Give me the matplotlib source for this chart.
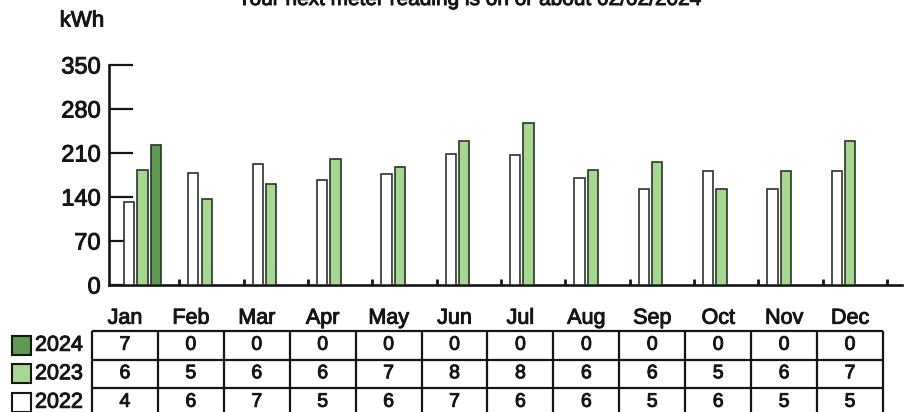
import matplotlib
matplotlib.use("Agg")
import matplotlib.pyplot as plt
from matplotlib.patches import Rectangle
import matplotlib.patheffects as pe
import numpy as np

plt.rcParams['font.family'] = ['Liberation Sans', 'DejaVu Sans']

months = ['Jan', 'Feb', 'Mar', 'Apr', 'May', 'Jun', 'Jul', 'Aug', 'Sep', 'Oct', 'Nov', 'Dec']
years = ['2024', '2023', '2022']
kwh_2022 = [132, 178, 192, 167, 176, 208, 207, 171, 152, 182, 152, 181]
kwh_2023 = [183, 137, 160, 201, 188, 229, 258, 183, 196, 152, 181, 229]
kwh_2024 = [223, None, None, None, None, None, None, None, None, None, None, None]
days_2024 = [7, 0, 0, 0, 0, 0, 0, 0, 0, 0, 0, 0]
days_2023 = [6, 5, 6, 6, 7, 8, 8, 6, 6, 5, 6, 7]
days_2022 = [4, 6, 7, 5, 6, 7, 6, 6, 5, 6, 5, 5]
yticks = [0, 70, 140, 210, 280, 350]
title = "Your next meter reading is on or about 02/02/2024"

C2024 = '#5f9a53'
C2023 = '#a6d88f'
C2022 = '#ffffff'
EDGE = '#2b332b'
INK = '#151515'
BOLD = [pe.withStroke(linewidth=0.7, foreground=INK)]

W, H = 909, 412
fig = plt.figure(figsize=(W / 100, H / 100), dpi=100)
fig.patch.set_facecolor('white')

# main chart axes (pixel geometry)
ax_l, ax_r, ax_t, ax_b = 109, 902, 65, 285
ax = fig.add_axes([ax_l / W, 1 - ax_b / H, (ax_r - ax_l) / W, (ax_b - ax_t) / H])
slot0 = 114.8
slot_w = 64.35
ax.set_xlim(-(slot0 - ax_l) / slot_w, (ax_r - slot0) / slot_w)
ax.set_ylim(0, 350)

idx = np.arange(len(months))
bw = 0.16
ax.bar(idx + 0.22, kwh_2022, width=bw, color=C2022, edgecolor=EDGE, linewidth=1.2, zorder=3)
ax.bar(idx + 0.43, kwh_2023, width=bw, color=C2023, edgecolor=EDGE, linewidth=1.2, zorder=3)
v24 = [(i, v) for i, v in enumerate(kwh_2024) if v]
ax.bar([i + 0.64 for i, _ in v24], [v for _, v in v24], width=bw, color=C2024,
       edgecolor=EDGE, linewidth=1.2, zorder=3)

for s in ['top', 'right']:
    ax.spines[s].set_visible(False)
for s in ['left', 'bottom']:
    ax.spines[s].set_color(INK)
    ax.spines[s].set_linewidth(1.9)

ax.set_yticks(yticks)
ax.set_yticklabels([str(v) for v in yticks], fontsize=17, color=INK)
for lbl in ax.get_yticklabels():
    lbl.set_path_effects(BOLD)
ax.tick_params(axis='y', direction='in', length=17.5, width=1.6, color=INK, pad=6)
ax.set_xticks(np.arange(1, len(months) + 1))
ax.set_xticklabels([])
ax.tick_params(axis='x', direction='in', length=4, width=2, color=INK)

fig.text(82 / W, 1 - 21 / H, 'kWh', fontsize=16, ha='center', va='center', color=INK,
         path_effects=BOLD)
fig.text(470 / W, 1 - 5 / H, title, fontsize=15, ha='center', va='baseline', color=INK,
         path_effects=BOLD)

# data table below
tb_l, tb_r, tb_t = 92, 883, 331
row_h = 28.5
tax = fig.add_axes([tb_l / W, 0, (tb_r - tb_l) / W, (H - tb_t) / H])
tax.set_xlim(0, len(months))
tax.set_ylim(3 - (H - tb_t) / row_h, 3)
tax.axis('off')
for k in range(len(months) + 1):
    tax.plot([k, k], [-1, 3], color=INK, lw=1.6, clip_on=False, solid_capstyle='butt')
for r in [3, 2, 1, 0]:
    tax.plot([0, len(months)], [r, r], color=INK, lw=1.6, clip_on=False, solid_capstyle='butt')
rows = [days_2024, days_2023, days_2022]
for ri, vals in enumerate(rows):
    yc = 2.5 - ri
    for ci, v in enumerate(vals):
        tax.text(ci + 0.5, yc, str(v), ha='center', va='center', fontsize=14, color=INK,
                 path_effects=BOLD)
for ci, m in enumerate(months):
    tax.text(ci + 0.5, 3.45, m, ha='center', va='center', fontsize=15.5, color=INK,
             clip_on=False, path_effects=BOLD)

# legend swatches
sw_colors = [C2024, C2023, C2022]
for ri, (yr, col) in enumerate(zip(years, sw_colors)):
    yc = tb_t + row_h * (ri + 0.5)
    fig.patches.append(Rectangle((12 / W, 1 - (yc + 9.5) / H), 19 / W, 19 / H,
                                 transform=fig.transFigure, facecolor=col,
                                 edgecolor=INK, linewidth=1.5))
    fig.text(35 / W, 1 - yc / H, yr, fontsize=15.5, ha='left', va='center', color=INK,
             path_effects=BOLD)

fig.savefig('out.png', dpi=100, facecolor='white')
